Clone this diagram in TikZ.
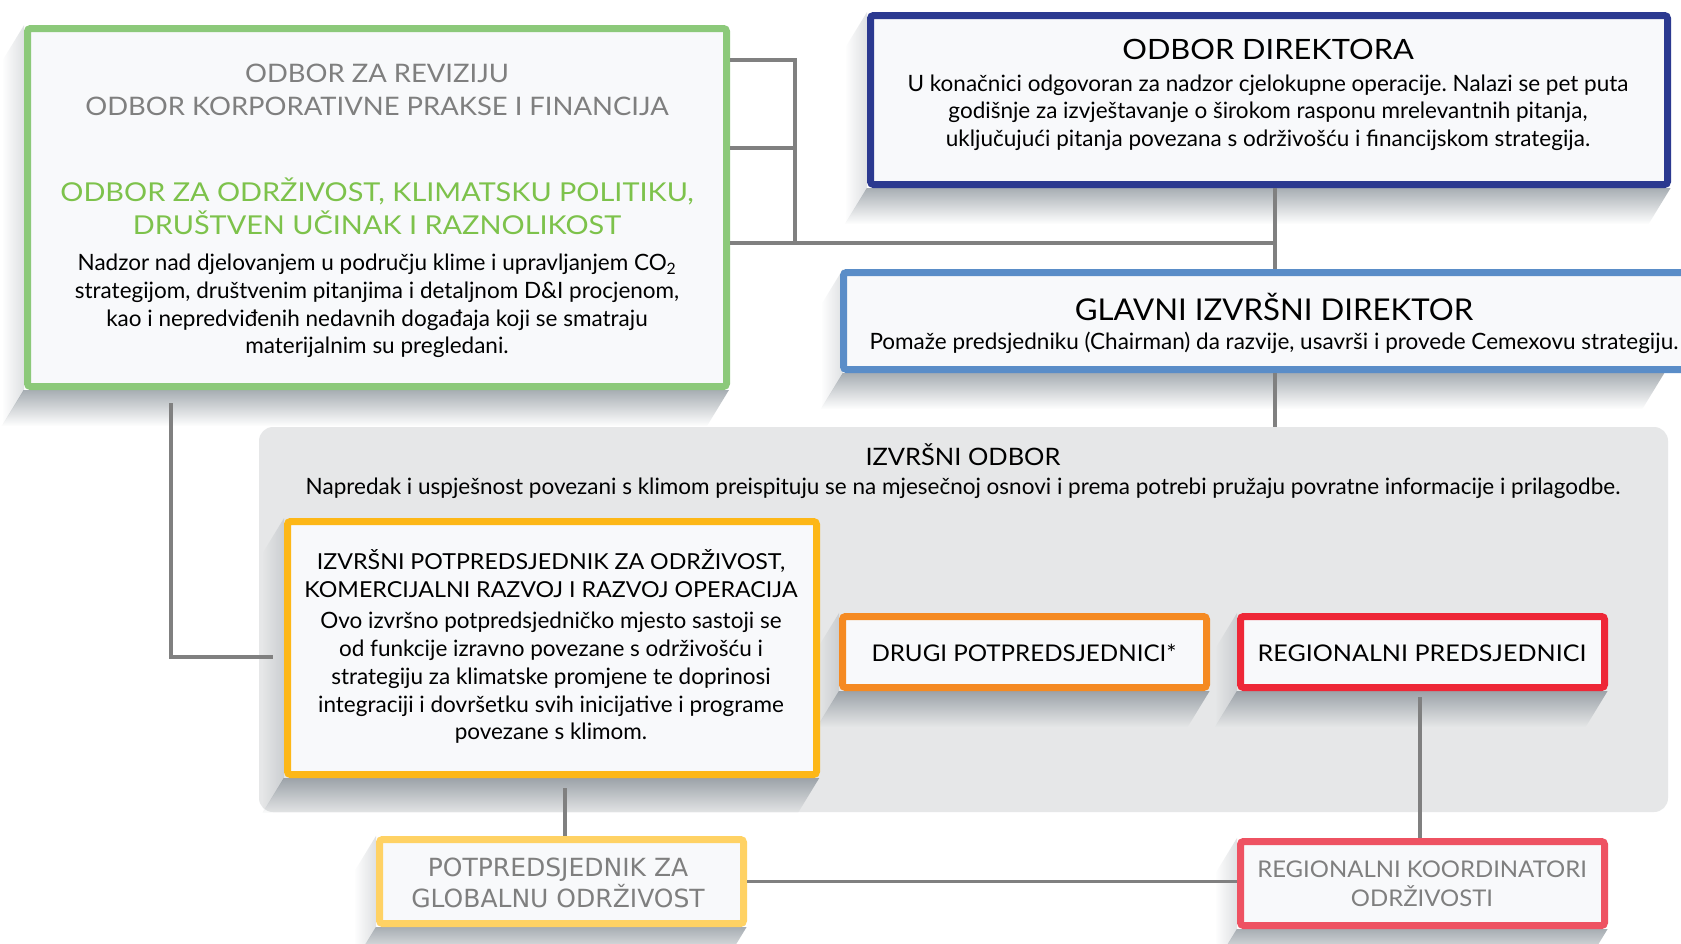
\documentclass[tikz,border=0pt]{standalone}
\usepackage{fontspec}
\usepackage{graphicx}
\setmainfont{Lato}
\newfontfamily\wideFont{DejaVu Sans}
\usetikzlibrary{fadings}
\frenchspacing
\definecolor{lnGray}{HTML}{808080}
\definecolor{bxFill}{HTML}{F8F9FB}
\definecolor{cGreen}{HTML}{8CC97A}
\definecolor{tGreen}{HTML}{7DC24B}
\definecolor{cNavy}{HTML}{2B3990}
\definecolor{cBlue}{HTML}{5A8DC8}
\definecolor{cGrayBox}{HTML}{E6E7E8}
\definecolor{cYellow}{HTML}{FDB717}
\definecolor{cOrange}{HTML}{F58A22}
\definecolor{cRed}{HTML}{EE2737}
\definecolor{cLtRed}{HTML}{EE5262}
\definecolor{cLtYellow}{HTML}{FFD264}
\definecolor{tGray}{HTML}{7F7F7F}
\definecolor{shadowC}{HTML}{5F6B75}
\tikzfading[name=shdown, top color=transparent!0, bottom color=transparent!100]
\tikzfading[name=shleft, right color=transparent!20, left color=transparent!100]
\newcommand{\hs}[2]{\scalebox{#1}[1]{#2}}
\newcommand{\dropshade}[4]{%
  \pgfmathsetmacro\shL{#1-22}\pgfmathsetmacro\shR{#3-22}%
  \pgfmathsetmacro\shT{#2+36}\pgfmathsetmacro\shB{#4+36}%
  \fill[shadowC, opacity=.55, path fading=shdown] (#1,#4) -- (#3,#4) -- (\shR,\shB) -- (\shL,\shB) -- cycle;
  \fill[shadowC, opacity=.25, path fading=shleft] (#1,#2) -- (#1,#4) -- (\shL,\shB) -- (\shL,\shT) -- cycle;
}
\begin{document}
\begin{tikzpicture}[x=1pt,y=-1pt,
  conn/.style={draw=lnGray, line width=3.5pt},
  cbox/.style={fill=bxFill, rounded corners=3pt, inner sep=0pt, line width=7pt},
  txt/.style={inner sep=0pt, align=center},
  body/.style={txt, font=\fontsize{22.5}{27.7}\selectfont\frenchspacing},
]
\useasboundingbox (0,0) rectangle (1681,943);
\fill[white] (0,0) rectangle (1681,943);
\clip (0,0) rectangle (1681,943);

% group background
\node[fill=cGrayBox, rounded corners=14pt, inner sep=0pt, minimum width=1409pt, minimum height=385pt] (group) at (963.5,619.5) {};

% shadows
\dropshade{24}{25}{730}{390}
\dropshade{867}{12}{1671}{188}
\dropshade{843}{269}{1665}{373}
\begin{scope}
\clip (259,427) rectangle (1668,812);
\dropshade{284}{518}{820}{778}
\end{scope}
\dropshade{839}{613}{1210}{691}
\dropshade{1237}{613}{1608}{691}
\dropshade{376}{836}{747}{927}
\dropshade{1237}{838}{1608}{929}

% coordinates
\coordinate (spine) at (1275,0);
\coordinate (busTop) at (795,60);
\coordinate (busMid) at (795,148);
\coordinate (busBot) at (795,243);
\coordinate (lftTop) at (171,403);
\coordinate (lftBot) at (171,657);
\coordinate (vpIn) at (273,657);
\coordinate (gvTop) at (565,788);
\coordinate (rvTop) at (1420,697);

% boxes
\node[cbox, draw=cGreen, minimum width=699pt, minimum height=358pt] (green) at (377,207.5) {};
\node[cbox, draw=cNavy, minimum width=797pt, minimum height=169pt] (navy) at (1269,100) {};
\node[cbox, draw=cBlue, minimum width=853pt, minimum height=97pt] (blue) at (1270,321) {};
\node[cbox, draw=cYellow, minimum width=529pt, minimum height=253pt] (vp) at (552,648) {};
\node[cbox, draw=cOrange, minimum width=364pt, minimum height=71pt] (drugi) at (1024.5,652) {};
\node[cbox, draw=cRed, minimum width=364pt, minimum height=71pt] (regp) at (1422.5,652) {};
\node[cbox, draw=cLtYellow, minimum width=364pt, minimum height=84pt] (glob) at (561.5,881.5) {};
\node[cbox, draw=cLtRed, minimum width=364pt, minimum height=84pt] (koord) at (1422.5,883.5) {};

% connectors
\draw[conn] (green.east |- busTop) -- (busTop) -- (busBot);
\draw[conn] (green.east |- busMid) -- (busMid);
\draw[conn] (green.east |- busBot) -- (spine |- busBot);
\draw[conn] (spine |- navy.south) -- (spine |- blue.north);
\draw[conn] (spine |- blue.south) -- (spine |- group.north);
\draw[conn] (lftTop) -- (lftBot) -- (vpIn);
\draw[conn] (gvTop) -- (gvTop |- glob.north);
\draw[conn] (rvTop) -- (rvTop |- koord.north);
\draw[conn] (glob.east) -- (glob.east -| koord.west);

% texts: green box
\node[txt, text=tGray, font=\fontsize{25.5}{33}\selectfont] (tRev) at (377,89.5) {\hs{1.075}{ODBOR ZA REVIZIJU}\\\hs{1.075}{ODBOR KORPORATIVNE PRAKSE I FINANCIJA}};
\node[txt, text=tGreen, font=\fontsize{26}{33}\selectfont] (tOdr) at (377,206) {\hs{1.11}{ODBOR ZA ODRŽIVOST, KLIMATSKU POLITIKU,}\\\hs{1.11}{DRUŠTVEN UČINAK I RAZNOLIKOST}};
\node[body] (tNad) at (377,306) {Nadzor nad djelovanjem u području klime i upravljanjem CO\textsubscript{2}\\strategijom, društvenim pitanjima i detaljnom D\&I procjenom,\\kao i nepredviđenih nedavnih događaja koji se smatraju\\materijalnim su pregledani.};

% navy
\node[txt, font=\fontsize{28}{33}\selectfont] (tDir) at (1268,49.5) {\hs{1.1}{ODBOR DIREKTORA}};
\node[body] (tDirB) at (1268,112.5) {U konačnici odgovoran za nadzor cjelokupne operacije. Nalazi se pet puta\\godišnje za izvještavanje o širokom rasponu mrelevantnih pitanja,\\uključujući pitanja povezana s održivošću i financijskom strategija.};

% blue
\node[txt, font=\fontsize{30}{33}\selectfont] (tCeo) at (1274,306.5) {\hs{1.04}{GLAVNI IZVRŠNI DIREKTOR}};
\node[body] (tCeoB) at (1274,342.5) {Pomaže predsjedniku (Chairman) da razvije, usavrši i provede Cemexovu strategiju.};

% group
\node[txt, font=\fontsize{24}{30}\selectfont] (tIzv) at (963,455) {\hs{1.06}{IZVRŠNI ODBOR}};
\node[body] (tIzvB) at (963,488) {Napredak i uspješnost povezani s klimom preispituju se na mjesečnoj osnovi i prema potrebi pružaju povratne informacije i prilagodbe.};

% vp
\node[txt, font=\fontsize{22}{27.5}\selectfont] (tVp) at (551,573.5) {\hs{1.055}{IZVRŠNI POTPREDSJEDNIK ZA ODRŽIVOST,}\\\hs{1.055}{KOMERCIJALNI RAZVOJ I RAZVOJ OPERACIJA}};
\node[body] (tVpB) at (551,678) {Ovo izvršno potpredsjedničko mjesto sastoji se\\od funkcije izravno povezane s održivošću i\\strategiju za klimatske promjene te doprinosi\\integraciji i dovršetku svih inicijative i programe\\povezane s klimom.};

% small boxes
\node[txt, font=\fontsize{23}{28}\selectfont] (tDrugi) at (1024,653) {\hs{1.05}{DRUGI POTPREDSJEDNICI*}};
\node[txt, font=\fontsize{23}{28}\selectfont] (tRegp) at (1422,653) {\hs{1.09}{REGIONALNI PREDSJEDNICI}};
\node[txt, text=tGray, font=\wideFont\fontsize{25}{31}\selectfont] (tGlob) at (558,882.5) {POTPREDSJEDNIK ZA\\GLOBALNU ODRŽIVOST};
\node[txt, text=tGray, font=\fontsize{23}{29}\selectfont] (tKoord) at (1422,884) {\hs{1.04}{REGIONALNI KOORDINATORI}\\\hs{1.04}{ODRŽIVOSTI}};
\end{tikzpicture}
\end{document}
